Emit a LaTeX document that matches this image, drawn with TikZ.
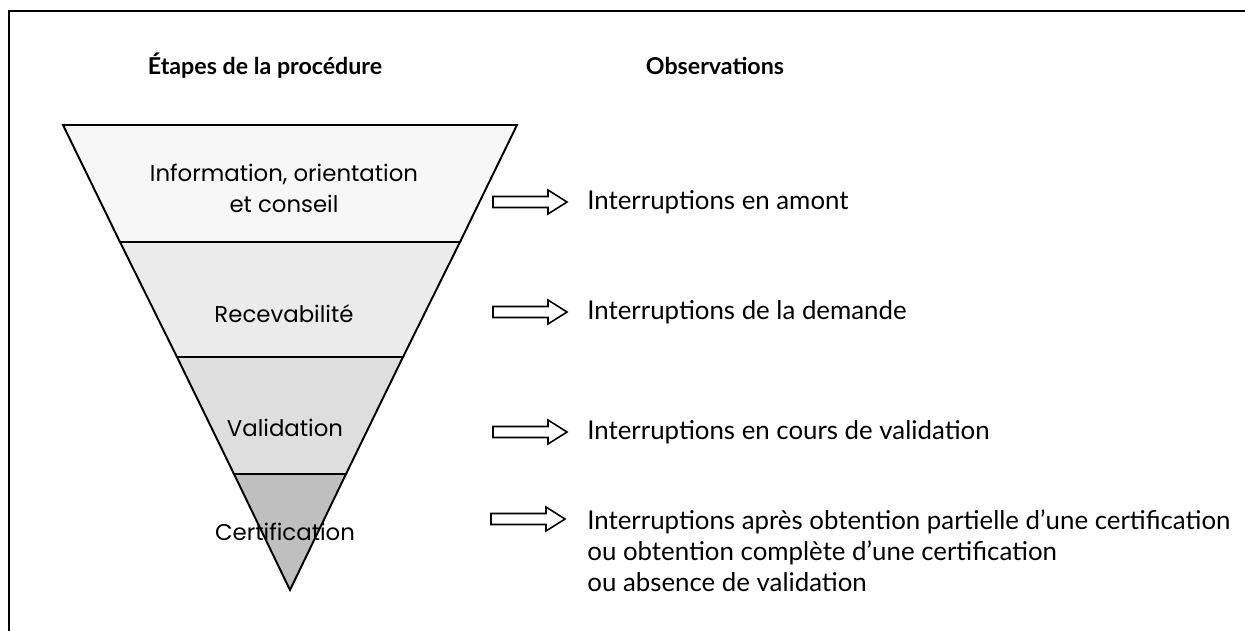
\documentclass[tikz,border=0pt]{standalone}
\usepackage{fontspec}
\newfontfamily\stagefont{Poppins}
\newfontfamily\notefont{Lato}
\begin{document}
\begin{tikzpicture}[x=0.02cm,y=-0.02cm,
  frameline/.style={line width=1.3pt},
  band/.style={draw=black,line width=1.1pt,line join=miter},
  stagelabel/.style={inner sep=0pt,align=center,font=\stagefont\fontsize{13}{17.5}\selectfont},
  notelabel/.style={inner sep=0pt,anchor=west,align=left,font=\notefont\fontsize{14.7}{17.6}\selectfont},
  headlabel/.style={inner sep=0pt,font=\notefont\bfseries\fontsize{13.2}{15}\selectfont},
  barrow/.pic={\draw[line width=0.9pt,fill=white,line join=miter]
     (0,-5.5) -- (55,-5.5) -- (55,-12) -- (74,0) -- (55,12) -- (55,5.5) -- (0,5.5) -- cycle;}
]
\useasboundingbox (0,0) rectangle (1245,630);
% open frame: left and top rules only
\draw[frameline] (9,632) -- (9,11) -- (1247,11);

% column headings
\node[headlabel] (hstages) at (265,66) {Étapes de la procédure};
\node[headlabel] (hnotes) at (715,66) {Observations};

% funnel bands, top to bottom
\coordinate (apex) at (290,590);
\filldraw[band,fill=black!3] (63,125) -- (517,125) -- (460,242) -- (120,242) -- cycle;
\filldraw[band,fill=black!8] (120,242) -- (460,242) -- (403,357) -- (177,357) -- cycle;
\filldraw[band,fill=black!13] (177,357) -- (403,357) -- (346,474) -- (234,474) -- cycle;
\filldraw[band,fill=black!25] (234,474) -- (346,474) -- (apex) -- cycle;

% stage names
\node[stagelabel] (s1) at (284,188) {Information, orientation\\et conseil};
\node[stagelabel] (s2) at (284,314) {Recevabilité};
\node[stagelabel] (s3) at (285,428) {Validation};
\node[stagelabel] (s4) at (285,532) {Certification};

% observations with their block arrows
\pic at (493,202) {barrow};
\pic at (493,312) {barrow};
\pic at (493,432) {barrow};
\pic at (491,519) {barrow};
\node[notelabel] (o1) at (587,202) {Interruptions en amont};
\node[notelabel] (o2) at (587,312) {Interruptions de la demande};
\node[notelabel] (o3) at (587,432) {Interruptions en cours de validation};
\node[notelabel] (o4) at (587,551) {Interruptions après obtention partielle d’une certification\\ou obtention complète d’une certification\\ou absence de validation};
\end{tikzpicture}
\end{document}
